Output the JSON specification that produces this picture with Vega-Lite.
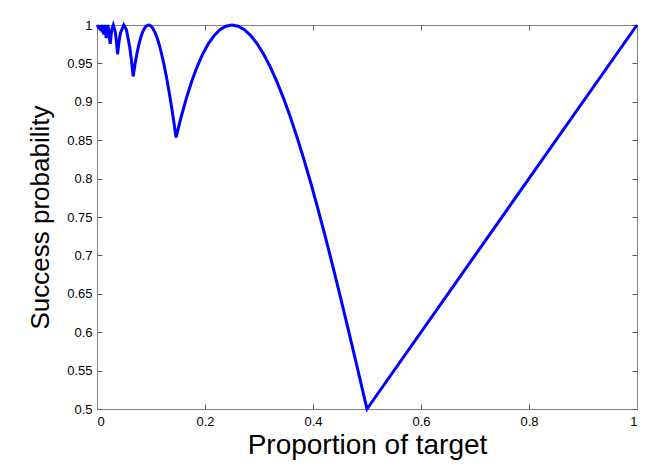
{
  "$schema": "https://vega.github.io/schema/vega-lite/v6.json",
  "width": 540,
  "height": 384,
  "autosize": "none",
  "padding": {"left": 97, "top": 25, "right": 28, "bottom": 61},
  "background": "white",
  "config": {
    "view": {"stroke": "#7f7f7f", "strokeWidth": 1},
    "axis": {
      "labelFont": "Liberation Sans",
      "titleFont": "Liberation Sans",
      "labelColor": "black",
      "titleColor": "black",
      "labelFontSize": 13,
      "titleFontWeight": "normal",
      "domainColor": "#7f7f7f",
      "tickColor": "#555555",
      "tickSize": -5,
      "grid": false
    }
  },
  "data": {
    "values": [
      {"t": 0, "p": 1},
      {"t": 0.002133, "p": 0.997867},
      {"t": 0.002264, "p": 1},
      {"t": 0.002408, "p": 0.997592},
      {"t": 0.002565, "p": 1},
      {"t": 0.002739, "p": 0.997261},
      {"t": 0.002931, "p": 1},
      {"t": 0.003144, "p": 0.996856},
      {"t": 0.00338, "p": 1},
      {"t": 0.003646, "p": 0.996354},
      {"t": 0.003943, "p": 1},
      {"t": 0.004278, "p": 0.995722},
      {"t": 0.004657, "p": 1},
      {"t": 0.005089, "p": 0.994911},
      {"t": 0.005585, "p": 1},
      {"t": 0.006156, "p": 0.993844},
      {"t": 0.006819, "p": 1},
      {"t": 0.007596, "p": 0.992404},
      {"t": 0.008513, "p": 1},
      {"t": 0.009607, "p": 0.990393},
      {"t": 0.010926, "p": 1},
      {"t": 0.012536, "p": 0.987464},
      {"t": 0.014529, "p": 1},
      {"t": 0.017037, "p": 0.982963},
      {"t": 0.020254, "p": 1},
      {"t": 0.024472, "p": 0.975528},
      {"t": 0.027241, "p": 0.993844},
      {"t": 0.030154, "p": 1},
      {"t": 0.033996, "p": 0.990393},
      {"t": 0.036004, "p": 0.97847},
      {"t": 0.03806, "p": 0.96194},
      {"t": 0.040605, "p": 0.97751},
      {"t": 0.043227, "p": 0.989074},
      {"t": 0.049516, "p": 1},
      {"t": 0.054497, "p": 0.993844},
      {"t": 0.060591, "p": 0.971321},
      {"t": 0.063752, "p": 0.954072},
      {"t": 0.066987, "p": 0.933013},
      {"t": 0.070297, "p": 0.948436},
      {"t": 0.07368, "p": 0.96194},
      {"t": 0.077136, "p": 0.973465},
      {"t": 0.080665, "p": 0.982963},
      {"t": 0.084265, "p": 0.990393},
      {"t": 0.087937, "p": 0.995722},
      {"t": 0.091679, "p": 0.998929},
      {"t": 0.095492, "p": 1},
      {"t": 0.099373, "p": 0.998929},
      {"t": 0.103323, "p": 0.995722},
      {"t": 0.107342, "p": 0.990393},
      {"t": 0.111427, "p": 0.982963},
      {"t": 0.115579, "p": 0.973465},
      {"t": 0.119797, "p": 0.96194},
      {"t": 0.12408, "p": 0.948436},
      {"t": 0.128428, "p": 0.933013},
      {"t": 0.132839, "p": 0.915735},
      {"t": 0.137313, "p": 0.896677},
      {"t": 0.141849, "p": 0.87592},
      {"t": 0.146447, "p": 0.853553},
      {"t": 0.155823, "p": 0.880203},
      {"t": 0.165435, "p": 0.904508},
      {"t": 0.175276, "p": 0.92632},
      {"t": 0.18534, "p": 0.945503},
      {"t": 0.195619, "p": 0.96194},
      {"t": 0.206107, "p": 0.975528},
      {"t": 0.216797, "p": 0.986185},
      {"t": 0.227681, "p": 0.993844},
      {"t": 0.238751, "p": 0.998459},
      {"t": 0.25, "p": 1},
      {"t": 0.261421, "p": 0.998459},
      {"t": 0.273005, "p": 0.993844},
      {"t": 0.284744, "p": 0.986185},
      {"t": 0.296632, "p": 0.975528},
      {"t": 0.308658, "p": 0.96194},
      {"t": 0.320816, "p": 0.945503},
      {"t": 0.333097, "p": 0.92632},
      {"t": 0.345492, "p": 0.904508},
      {"t": 0.357993, "p": 0.880203},
      {"t": 0.37059, "p": 0.853553},
      {"t": 0.383277, "p": 0.824724},
      {"t": 0.396044, "p": 0.793893},
      {"t": 0.408882, "p": 0.76125},
      {"t": 0.421783, "p": 0.726995},
      {"t": 0.434737, "p": 0.691342},
      {"t": 0.447736, "p": 0.654508},
      {"t": 0.460771, "p": 0.616723},
      {"t": 0.473832, "p": 0.578217},
      {"t": 0.486912, "p": 0.53923},
      {"t": 0.5, "p": 0.5},
      {"t": 1, "p": 1}
    ]
  },
  "layer": [
    {
      "mark": {"type": "line", "color": "#0000ff", "strokeWidth": 3, "clip": false},
      "encoding": {
        "x": {"field": "t", "type": "quantitative", "scale": {"domain": [0, 1], "nice": false, "zero": false},
          "axis": {"title": "Proportion of target", "titleFontSize": 28, "values": [0, 0.2, 0.4, 0.6, 0.8, 1], "format": "~g", "labelPadding": 11, "titlePadding": 3}},
        "y": {"field": "p", "type": "quantitative", "scale": {"domain": [0.5, 1], "nice": false, "zero": false},
          "axis": {"title": "Success probability", "titleFontSize": 26, "values": [0.5, 0.55, 0.6, 0.65, 0.7, 0.75, 0.8, 0.85, 0.9, 0.95, 1], "format": "~g", "labelPadding": 10, "titlePadding": 13}}
      }
    },
    {
      "mark": {"type": "line", "opacity": 0},
      "encoding": {
        "x": {"field": "t", "type": "quantitative", "scale": {"domain": [0, 1], "nice": false, "zero": false},
          "axis": {"orient": "top", "title": null, "labels": false, "values": [0, 0.2, 0.4, 0.6, 0.8, 1]}},
        "y": {"field": "p", "type": "quantitative", "scale": {"domain": [0.5, 1], "nice": false, "zero": false},
          "axis": {"orient": "right", "title": null, "labels": false, "values": [0.5, 0.55, 0.6, 0.65, 0.7, 0.75, 0.8, 0.85, 0.9, 0.95, 1]}}
      }
    }
  ],
  "resolve": {"axis": {"x": "independent", "y": "independent"}}
}
